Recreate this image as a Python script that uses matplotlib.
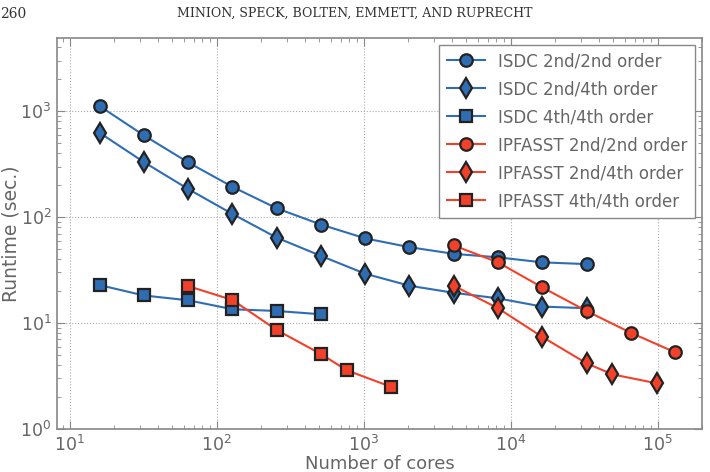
import numpy as np
import matplotlib
matplotlib.use("Agg")
import matplotlib.pyplot as plt

# cores
cores_isdc = [16, 32, 64, 128, 256, 512, 1024, 2048, 4096, 8192, 16384, 32768]
cores_isdc44 = [16, 32, 64, 128, 256, 512]
cores_ip22 = [4096, 8192, 16384, 32768, 65536, 131072]
cores_ip24 = [4096, 8192, 16384, 32768, 49152, 98304]
cores_ip44 = [64, 128, 256, 512, 768, 1536]

# runtimes (sec.)
isdc_22 = [1115, 590, 328, 193, 121, 85, 63, 52, 45, 41.7, 37.4, 36]
isdc_24 = [624, 330, 184, 107, 64, 43, 29.2, 22.5, 19.3, 17.1, 14.3, 13.8]
isdc_44 = [22.8, 18.2, 16.4, 13.5, 13.0, 12.1]
ip_22 = [54, 37.4, 21.7, 13, 8.1, 5.3]
ip_24 = [22.5, 13.8, 7.4, 4.17, 3.28, 2.7]
ip_44 = [22.3, 16.5, 8.6, 5.1, 3.58, 2.5]

labels = ["ISDC 2nd/2nd order", "ISDC 2nd/4th order", "ISDC 4th/4th order",
          "IPFASST 2nd/2nd order", "IPFASST 2nd/4th order", "IPFASST 4th/4th order"]

blue = "#2f6db3"
red = "#f2412a"
edge = "#222222"
txt = "#666666"

fig = plt.figure(figsize=(7.1, 4.72), dpi=100)
ax = fig.add_axes([57/710, 1-429/472, (702-57)/710, (429-38)/472])

series = [
    (cores_isdc, isdc_22, blue, "o", 9),
    (cores_isdc, isdc_24, blue, "d", 10),
    (cores_isdc44, isdc_44, blue, "s", 9),
    (cores_ip22, ip_22, red, "o", 9),
    (cores_ip24, ip_24, red, "d", 10),
    (cores_ip44, ip_44, red, "s", 9),
]
for (x, y, c, m, ms), lab in zip(series, labels):
    ax.plot(x, y, color=c, marker=m, ms=ms, mfc=c, mec=edge, mew=1.6,
            lw=1.5, label=lab)

ax.set_xscale("log")
ax.set_yscale("log")
ax.set_xlim(8.2, 2.0e5)
ax.set_ylim(1, 4900)
ax.grid(True, which="major", ls=":", color="#aaaaaa", lw=0.8)
ax.tick_params(which="both", direction="in", top=True, right=True,
               colors="#888888", labelcolor=txt, labelsize=12.5)
ax.tick_params(which="major", length=6, pad=4)
ax.tick_params(which="minor", length=3)
for s in ax.spines.values():
    s.set_color("#888888")
    s.set_linewidth(1.2)

ax.set_xlabel("Number of cores", fontsize=13, color=txt, labelpad=0)
ax.set_ylabel("Runtime (sec.)", fontsize=13.5, color=txt, labelpad=0)

leg = ax.legend(loc="upper right", fontsize=12, handlelength=2.3,
                framealpha=1, fancybox=False, borderpad=0.45, labelspacing=0.6,
                borderaxespad=0.4)
leg.get_frame().set_edgecolor("#888888")
for t in leg.get_texts():
    t.set_color(txt)

fig.text(0.0, 0.985, "260", fontsize=10, family="DejaVu Serif", va="top", color="#333333")
fig.text(0.5, 0.985, "MINION, SPECK, BOLTEN, EMMETT, AND RUPRECHT", fontsize=9,
         family="DejaVu Serif", va="top", ha="center", color="#333333")

fig.savefig("out.png", dpi=100)
